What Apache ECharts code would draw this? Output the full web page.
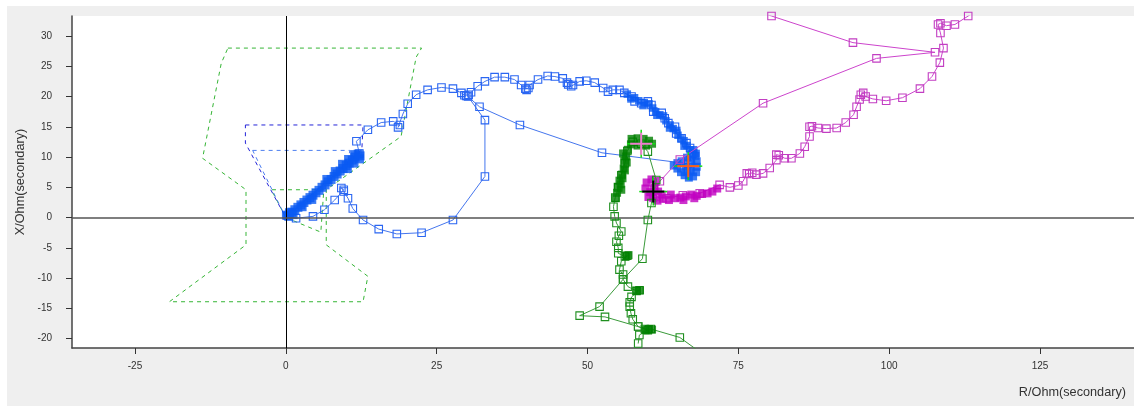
<!DOCTYPE html>
<html>
<head>
<meta charset="utf-8">
<script src="https://cdn.jsdelivr.net/npm/echarts@6/dist/echarts.min.js"></script>
<style>
  html, body { margin: 0; padding: 0; background: #fff; }
  #panel { position: absolute; left: 7px; top: 6px; width: 1127px; height: 400px; background: #efefef; }
  #chart-root { position: absolute; left: 0; top: 0; width: 1134px; height: 406px; }
</style>
</head>
<body>
<div id="panel"></div>
<div id="chart-root"></div>
<script>
// tick labels
const xTicks = [-25, 0, 25, 50, 75, 100, 125]
const yTicks = [-20, -15, -10, -5, 0, 5, 10, 15, 20, 25, 30]

// protection zones (dashed)
const greenZoneOuter = [[-9.6, 28], [22.5, 28], [21.6, 26.5], [19.1, 13.4], [6.7, 4.6], [6.7, -4.5], [13.6, -9.7], [12.8, -13.9], [-19.3, -13.9], [-6.6, -4.5], [-6.6, 4.6], [-13.8, 9.8], [-10.7, 25.5], [-9.6, 28]]
const greenZoneInner = [[0, 0], [-2.4, 4.6], [6.3, 4.6], [5.8, -2.4], [0, 0]]
const blueZone2 = [[-6.7, 15.3], [12.8, 15.3], [12.6, 11.2], [0, 0], [-6.7, 12.3], [-6.7, 15.3]]
const blueZone1 = [[-5.5, 11.1], [10.6, 11.1], [10.3, 9], [0, 0], [-5.5, 11.1]]

// impedance trajectories
const bluePath = [[66.7, 8.9], [52.4, 10.7], [38.8, 15.3], [32.1, 18.3], [30.2, 20.0], [33, 16.1], [33, 6.8], [27.7, -0.4], [22.5, -2.5], [18.4, -2.7], [15.4, -1.9], [12.8, -0.4], [11.1, 1.5], [10.3, 3.2], [9.6, 4.3], [9.2, 4.9], [9.6, 4.6], [8.1, 2.9], [6.4, 1.3], [4.5, 0.2], [1.7, -0.1], [0.3, 0.3],
  [12.2, 10.6], [11.7, 12.6], [13.6, 14.5], [15.8, 15.7], [17.8, 15.9], [18.9, 15.3], [18.6, 14.9], [19.4, 17.1], [20.2, 18.8], [21.6, 20.3], [23.5, 21.1], [25.8, 21.5], [27.7, 21.3], [29.1, 20.6], [29.6, 20.2], [29.9, 20.1], [30.3, 20.3], [30.7, 20.7], [31.8, 21.7], [33.0, 22.5], [34.6, 23.2], [36.3, 23.2], [37.9, 22.8], [39.0, 21.9], [39.7, 21.3], [39.9, 21.1], [40.2, 21.4], [40.4, 21.9], [41.8, 22.8], [43.4, 23.4], [44.6, 23.3], [45.9, 23.0], [46.6, 22.3], [46.8, 22.0], [47.3, 21.7], [47.6, 21.9], [48.7, 22.5], [49.8, 22.6], [51.2, 22.3], [52.6, 21.4], [53.4, 20.8], [54.2, 21.1], [55.3, 21.1], [56.1, 20.6], [57.3, 20.0], [57.8, 19.2], [58.9, 18.9], [60.0, 19.2], [60.6, 18.6], [60.9, 17.5], [62.3, 17.3], [62.8, 16.4], [63.4, 15.6], [64.5, 15.0], [64.7, 13.9], [65.6, 13.1], [66.4, 12.3], [67.0, 11.5], [67.5, 10.6], [67.0, 9.5]]
const blueBand = [[0.1, 0.4], [0.5, 0.2], [0.6, 0.8], [1.0, 0.9], [1.5, 1.3], [2.0, 1.7], [2.5, 2.1], [3.0, 2.5], [3.5, 2.9], [4.0, 3.3], [4.5, 3.7], [5.0, 4.1], [5.5, 4.5], [6.0, 5.0], [6.5, 5.4], [7.0, 5.9], [7.5, 6.3], [8.0, 6.8], [8.5, 7.2], [9.0, 7.7], [9.5, 8.1], [10.0, 8.6], [10.5, 9.0], [11.0, 9.5], [11.5, 10.0], [12.0, 10.5], [12.3, 10.2], [11.4, 10.4], [10.4, 9.6], [9.4, 8.8], [10.2, 8.1], [11.3, 9.0], [12.2, 9.7], [8.2, 7.6], [6.8, 6.3], [1.2, 0.5], [2.7, 1.8], [4.3, 3.0]]
const blueArcBand = [[56.6, 20.4], [57.2, 19.6], [57.8, 19.8], [58.5, 19.3], [59.4, 19.0], [59.2, 18.5], [60.2, 18.8], [60.8, 18.1], [61.3, 17.5], [61.5, 16.9], [62.0, 17.0], [62.6, 16.8], [63.0, 16.0], [63.7, 15.3], [63.6, 14.8], [64.2, 14.7], [64.8, 14.4], [65.0, 13.6], [65.5, 13.0], [66.0, 12.7], [66.0, 11.8], [66.5, 11.9], [67.0, 11.2], [67.6, 11.2], [68.0, 10.6]]
const blueBlob = [[64.3, 8.6], [64.9, 8.1], [65.5, 7.5], [66.1, 7.0], [66.8, 6.6], [67.5, 6.8], [68.0, 7.5], [68.1, 8.4], [68.1, 9.3], [67.9, 10.2], [67.3, 10.4], [66.5, 9.9], [65.6, 9.3], [64.9, 9.0], [66.3, 8.4], [67.1, 7.8], [67.2, 9.2], [66.6, 7.6]]

const greenPath = [[70.5, -23.5], [67.8, -21.6], [65.3, -19.8], [60.5, -18.4], [60, -18.6], [59.5, -18.4], [58.4, -18], [52.9, -16.4], [48.7, -16.2], [52, -14.7], [55.9, -10.2], [59.1, -6.8], [60, -0.4], [60.6, 2.4], [61.4, 6.2], [60, 10.9], [58.9, 12.2],
  [57.5, 12.5], [56.6, 11], [56.2, 9], [55.6, 7], [55.1, 5], [54.6, 3.3], [54.3, 1.8], [54.5, 0.2], [54.8, -0.9], [55.6, -2.3], [55.2, -3.0], [54.8, -4], [55.1, -5.0], [55.1, -5.9], [56.2, -6.4], [56.6, -6.3], [55.6, -7.2], [55.3, -8.6], [55.9, -9.4], [55.9, -10.2], [56.7, -11.4], [58.1, -12.1], [58.6, -12.0], [57.3, -13.1], [57, -14.0], [57, -14.7], [57.2, -15.8], [57.5, -16.8], [58.4, -18], [60, -18.5], [58.6, -19.4], [58.4, -20.8]]
const greenDense = [[57.3, 13.0], [58.3, 13.1], [59.3, 13.0], [60.2, 12.7], [60.7, 12.2], [59.7, 11.9], [58.3, 11.9], [57.2, 12.1], [56.7, 11.2], [56.4, 10.1], [56.5, 9.1], [56.0, 8.1], [55.7, 7.1], [55.3, 6.1], [55.0, 5.1], [54.9, 4.1], [55.6, 4.6], [54.7, 3.2], [55.9, 10.6], [56.1, 9.4], [55.8, 6.5], [56.2, 7.8], [55.5, 5.5],
  [56.4, -6.4], [56.8, -6.2], [58.2, -12.1], [58.7, -12.0], [59.6, -18.6], [60.2, -18.4], [60.7, -18.5]]

const magentaPath = [[76, 34.8], [80.5, 33.3], [94, 28.9], [107.6, 27.3], [97.9, 26.3], [79.1, 18.9], [65.3, 9.6], [62, 6.0], [61.0, 4.6],
  [61.4, 3.5], [63.1, 3.2], [65.8, 3.7], [68.6, 4.0], [71.9, 5.4], [73.6, 5.0], [75, 5.3], [75.8, 6.0], [76.4, 7.3], [76.8, 7.2], [77.3, 7.4], [78, 7.1], [79.1, 7.3], [80.2, 8.2], [81.3, 9.5], [81.3, 10.4], [81.7, 10.3], [82.7, 9.8], [83.8, 9.8], [85.2, 10.6], [86, 11.7], [86.8, 13.4], [86.8, 15.0], [87.2, 15.1], [88.2, 14.8], [89.6, 14.7], [91.3, 14.8], [92.8, 15.7], [94.1, 17], [94.6, 18.3], [95.1, 19.5], [95.3, 20.3], [95.7, 20.6], [96.1, 20], [97.3, 19.6], [99.5, 19.3], [102.2, 19.8], [105.1, 21.3], [107.1, 23.3], [108.4, 25.6], [109, 28], [108.5, 30.5], [108.1, 31.9], [108.5, 32.1], [109.5, 31.7], [110.9, 31.9], [113.1, 33.3], [116, 35.3]]
const magentaDense = [[59.8, 5.8], [60.6, 6.3], [61.3, 5.9], [59.6, 4.8], [60.4, 4.2], [61.1, 4.9], [61.7, 4.3], [60.1, 3.4], [60.9, 3.2], [61.6, 2.8], [62.5, 3.1], [63.5, 2.9], [64.5, 3.2], [65.4, 3.3], [66.3, 3.5], [67.2, 3.8], [68.1, 3.6], [69.0, 3.9], [69.9, 4.0], [70.7, 4.3], [71.5, 4.8], [63.8, 3.8], [65.9, 2.9], [67.7, 3.2], [62.3, 3.8]]

// cursor crosses: orange (blue), pink (green), black (magenta)
const crossPoints = [[66.7, 8.5], [58.9, 12.2], [60.9, 4.3]]
const crossColors = ['#ff5a1e', '#f07ad0', '#000000']

function zoneSeries (data, color) {
  return {
    type: 'line',
    data,
    symbol: 'none',
    silent: true,
    lineStyle: { color, width: 1, type: [4, 4] },
    z: 2
  }
}

function pathSeries (data, color, lineColor, z) {
  return {
    type: 'line',
    data,
    symbol: 'rect',
    symbolSize: 7.5,
    lineStyle: { color: lineColor, width: 1 },
    itemStyle: { color: 'rgba(0,0,0,0)', borderColor: color, borderWidth: 1.1 },
    emphasis: { disabled: true },
    z
  }
}

function denseSeries (data, color, size, z) {
  return {
    type: 'scatter',
    data,
    symbol: 'rect',
    symbolSize: size,
    itemStyle: { color },
    emphasis: { disabled: true },
    z
  }
}

function crossSeries (point, color) {
  return {
    type: 'custom',
    data: [point],
    z: 9,
    renderItem (params, api) {
      let p = api.coord([api.value(0), api.value(1)])
      let g = { stroke: '#11e011', lineWidth: 1.5 }
      let c = { stroke: color, lineWidth: 2 }
      return {
        type: 'group',
        children: [
          { type: 'line', shape: { x1: p[0] - 14, y1: p[1], x2: p[0] + 14, y2: p[1] }, style: g },
          { type: 'line', shape: { x1: p[0], y1: p[1] - 14, x2: p[0], y2: p[1] + 14 }, style: g },
          { type: 'line', shape: { x1: p[0] - 11, y1: p[1], x2: p[0] + 11, y2: p[1] }, style: c },
          { type: 'line', shape: { x1: p[0], y1: p[1] - 11, x2: p[0], y2: p[1] + 11 }, style: c }
        ]
      }
    }
  }
}

let chart = echarts.init(document.getElementById('chart-root'))

let zeroLines = zoneSeries(greenZoneOuter, '#36b536')
zeroLines.markLine = {
  silent: true,
  symbol: ['none', 'none'],
  label: { show: false },
  animation: false,
  data: [
    { xAxis: 0, lineStyle: { color: '#000', width: 1, type: 'solid' } },
    { yAxis: 0, lineStyle: { color: '#555', width: 1.5, type: 'solid' } }
  ]
}

let option = {
  animation: false,
  textStyle: { fontFamily: 'Liberation Sans, Arial, sans-serif' },
  grid: {
    show: true,
    backgroundColor: '#fff',
    borderWidth: 0,
    left: 72,
    top: 16,
    right: 0,
    bottom: 58
  },
  xAxis: {
    type: 'value',
    min: -35.44,
    max: 140.58,
    name: 'R/Ohm(secondary)',
    nameLocation: 'end',
    nameGap: -8,
    nameTextStyle: { color: '#333', fontSize: 12.7, align: 'right', verticalAlign: 'top', padding: [38, 0, 0, 0] },
    axisLine: { onZero: false, lineStyle: { color: '#444', width: 1.5 } },
    axisTick: { customValues: xTicks, length: 6, lineStyle: { color: '#333' } },
    axisLabel: { customValues: xTicks, margin: 13, fontSize: 10, color: '#333' },
    splitLine: { show: false }
  },
  yAxis: {
    type: 'value',
    min: -21.54,
    max: 33.3,
    name: 'X/Ohm(secondary)',
    nameLocation: 'middle',
    nameGap: 43,
    nameTextStyle: { color: '#333', fontSize: 12.7 },
    axisLine: { onZero: false, lineStyle: { color: '#444', width: 1.5 } },
    axisTick: { customValues: yTicks, length: 6, lineStyle: { color: '#333' } },
    axisLabel: { customValues: yTicks, margin: 20, fontSize: 10, color: '#333' },
    splitLine: { show: false }
  },
  series: [
    zeroLines,
    zoneSeries(greenZoneInner, '#36b536'),
    zoneSeries(blueZone2, '#2424d8'),
    zoneSeries(blueZone1, '#4d7ff0'),
    pathSeries(bluePath, '#2a66f2', '#4576ee', 3),
    denseSeries(blueBand, '#0a5af2', 9, 3),
    denseSeries(blueArcBand, '#0a5af2', 7.5, 3),
    denseSeries(blueBlob, '#0a5af2', 8, 3),
    pathSeries(magentaPath, '#c23ec2', '#cc44cc', 4),
    denseSeries(magentaDense, '#c000c0', 8, 4),
    pathSeries(greenPath, '#1f8f1f', '#3a9a3a', 5),
    denseSeries(greenDense, '#008000', 8, 5),
    ...crossPoints.map((p, i) => crossSeries(p, crossColors[i]))
  ]
}

chart.setOption(option)
</script>
</body>
</html>
